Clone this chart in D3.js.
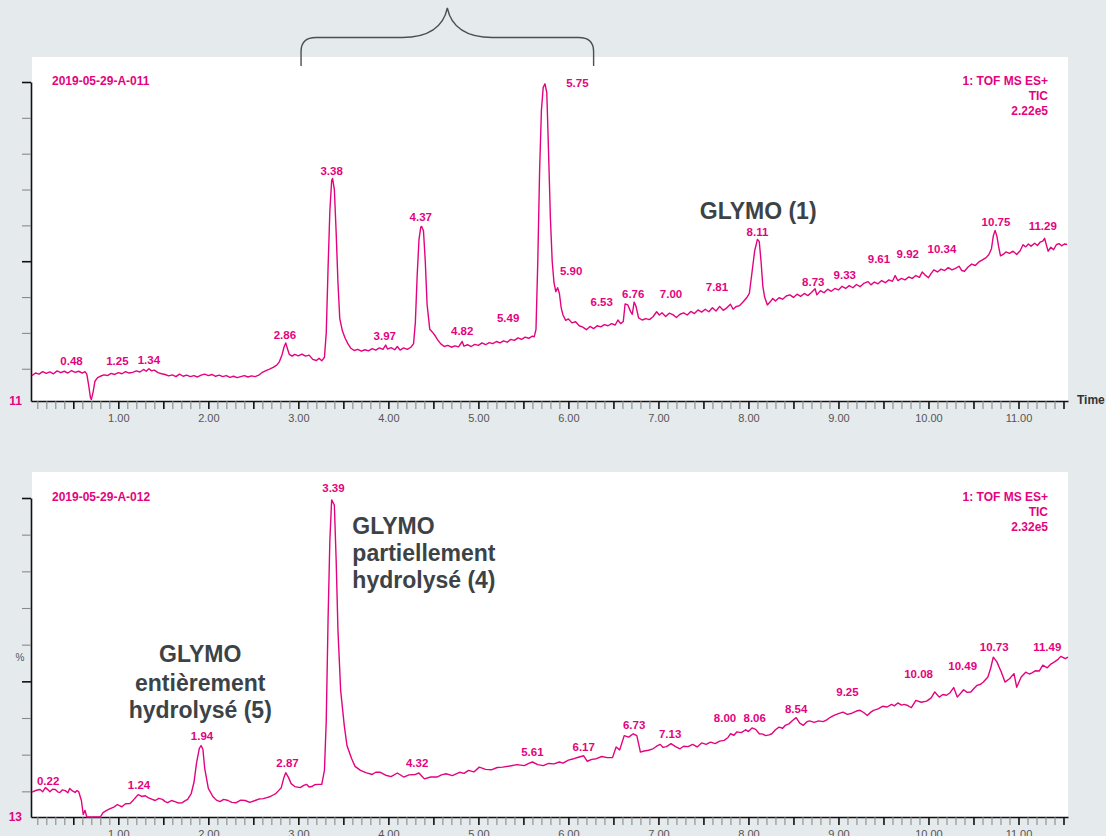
<!DOCTYPE html>
<html>
<head>
<meta charset="utf-8">
<script src="https://cdn.jsdelivr.net/npm/d3@7"></script>
<style>
  body { margin: 0; background: #e5eaed; }
  svg { display: block; font-family: "Liberation Sans", Arial, sans-serif; }
</style>
</head>
<body>
<div id="chart"></div>
<script>
// ============ DATA ============
// chromatogram traces: [time (min), intensity (%)]
let topTrace = [
  [0.04,18.1],[0.08,18.8],[0.12,18.5],[0.16,19.2],[0.20,18.7],[0.24,19.1],[0.28,18.6],[0.32,19.4],[0.36,18.9],[0.40,19.3],
  [0.44,18.8],[0.48,19.5],[0.52,19.0],[0.56,19.3],[0.60,18.8],[0.63,19.2],[0.65,18.5],[0.67,15.5],[0.69,12.0],[0.70,11.4],
  [0.72,13.5],[0.74,16.5],[0.77,17.5],[0.80,17.9],[0.84,18.3],[0.88,18.1],[0.92,18.7],[0.96,18.4],[1.00,18.9],[1.04,18.6],
  [1.08,19.2],[1.12,18.8],[1.16,19.0],[1.20,19.4],[1.24,19.1],[1.28,19.8],[1.31,19.3],[1.34,20.0],[1.37,19.4],[1.40,19.6],
  [1.44,18.9],[1.48,18.6],[1.52,18.4],[1.56,18.0],[1.60,18.3],[1.64,17.8],[1.68,18.5],[1.72,17.9],[1.76,18.2],[1.80,17.8],
  [1.84,18.1],[1.88,17.7],[1.92,18.2],[1.96,18.5],[2.00,18.1],[2.04,18.4],[2.08,17.9],[2.12,18.2],[2.16,17.8],[2.20,18.1],
  [2.24,17.6],[2.28,17.9],[2.32,17.5],[2.36,17.8],[2.40,18.1],[2.44,17.7],[2.48,18.0],[2.52,17.8],[2.56,18.2],[2.60,19.0],
  [2.64,19.5],[2.68,19.9],[2.72,20.4],[2.76,21.0],[2.79,22.0],[2.82,24.0],[2.84,26.0],[2.86,27.2],[2.88,25.5],[2.90,24.0],
  [2.93,23.5],[2.96,24.0],[3.00,23.6],[3.04,24.1],[3.08,23.5],[3.12,23.8],[3.16,22.6],[3.20,22.3],[3.23,22.9],[3.26,22.2],
  [3.29,23.2],[3.31,30.0],[3.33,48.0],[3.35,64.0],[3.37,72.5],[3.38,73.1],[3.40,70.0],[3.42,58.0],[3.44,44.0],[3.46,34.0],
  [3.49,30.5],[3.52,28.5],[3.55,27.0],[3.58,25.8],[3.62,25.1],[3.66,25.4],[3.70,24.9],[3.74,25.3],[3.78,25.0],[3.82,25.6],
  [3.86,25.2],[3.90,25.8],[3.94,25.4],[3.97,26.6],[3.99,25.5],[4.03,25.9],[4.07,25.3],[4.10,26.2],[4.13,25.2],[4.17,25.8],
  [4.21,25.4],[4.25,26.0],[4.28,27.0],[4.30,33.0],[4.32,46.0],[4.34,56.0],[4.36,59.5],[4.37,59.7],[4.39,58.5],[4.41,50.0],
  [4.43,38.0],[4.46,31.0],[4.49,30.2],[4.52,29.2],[4.55,28.0],[4.58,27.0],[4.62,26.2],[4.66,26.5],[4.70,26.0],[4.74,26.4],
  [4.78,26.1],[4.82,27.6],[4.84,26.3],[4.88,26.7],[4.92,26.2],[4.96,26.8],[5.00,26.5],[5.04,27.2],[5.08,26.7],[5.12,27.3],
  [5.16,27.0],[5.20,27.6],[5.24,27.2],[5.28,27.8],[5.32,27.4],[5.36,28.2],[5.40,27.9],[5.44,28.6],[5.48,28.2],[5.52,28.8],
  [5.56,28.5],[5.60,29.1],[5.62,28.9],[5.64,31.0],[5.66,50.0],[5.68,75.0],[5.70,92.0],[5.72,98.5],[5.74,99.5],[5.76,97.0],
  [5.78,80.0],[5.80,62.0],[5.82,50.0],[5.84,44.0],[5.86,41.5],[5.88,42.6],[5.90,41.0],[5.92,37.0],[5.94,35.0],[5.97,33.5],
  [6.00,33.9],[6.04,32.8],[6.08,33.1],[6.12,32.0],[6.16,31.6],[6.20,30.9],[6.24,31.8],[6.28,31.2],[6.32,32.0],[6.36,31.7],
  [6.40,32.3],[6.44,32.0],[6.48,32.6],[6.52,32.2],[6.55,33.6],[6.58,32.6],[6.61,33.2],[6.63,38.1],[6.66,37.8],[6.69,36.0],
  [6.71,35.2],[6.73,38.6],[6.75,37.5],[6.78,34.2],[6.82,33.6],[6.86,34.0],[6.90,33.7],[6.94,34.5],[6.98,35.9],[7.01,35.0],
  [7.04,35.6],[7.08,34.6],[7.12,35.5],[7.16,35.1],[7.20,34.3],[7.24,35.2],[7.28,35.6],[7.32,35.0],[7.36,36.0],[7.40,35.4],
  [7.44,36.4],[7.48,35.8],[7.52,36.6],[7.56,35.9],[7.60,37.0],[7.64,36.1],[7.68,37.4],[7.72,36.3],[7.76,37.0],[7.80,38.0],
  [7.83,36.6],[7.86,37.3],[7.90,37.6],[7.94,38.6],[7.98,39.8],[8.01,41.0],[8.04,47.0],[8.07,53.0],[8.10,56.1],[8.12,55.5],
  [8.14,50.0],[8.16,43.0],[8.18,40.0],[8.21,37.8],[8.24,38.6],[8.27,39.6],[8.30,38.9],[8.34,39.8],[8.38,39.4],[8.42,40.3],
  [8.46,40.6],[8.50,39.9],[8.54,40.8],[8.58,40.2],[8.62,41.0],[8.66,40.4],[8.70,41.3],[8.74,42.3],[8.76,40.6],[8.80,41.8],
  [8.84,41.2],[8.88,42.2],[8.92,41.6],[8.96,42.4],[9.00,42.0],[9.04,43.0],[9.08,42.4],[9.12,43.2],[9.16,42.6],[9.20,43.5],
  [9.24,42.9],[9.28,43.8],[9.33,44.3],[9.36,43.4],[9.40,44.2],[9.44,43.7],[9.48,44.6],[9.52,44.0],[9.56,44.8],[9.60,44.4],
  [9.63,46.0],[9.66,44.6],[9.70,45.2],[9.74,44.8],[9.78,45.6],[9.82,45.2],[9.86,46.0],[9.90,45.5],[9.93,47.0],[9.96,46.2],
  [10.00,45.4],[10.03,46.6],[10.06,47.6],[10.10,47.0],[10.14,47.8],[10.18,47.4],[10.22,48.2],[10.26,47.6],[10.30,48.0],[10.34,48.6],
  [10.37,47.4],[10.40,47.2],[10.44,48.4],[10.48,49.2],[10.52,48.8],[10.56,49.8],[10.60,50.4],[10.64,51.0],[10.67,51.8],[10.70,53.5],
  [10.72,57.0],[10.74,58.6],[10.76,57.0],[10.78,54.0],[10.80,51.5],[10.83,51.9],[10.86,52.6],[10.90,52.2],[10.94,52.8],[10.98,51.9],
  [11.02,53.0],[11.05,54.6],[11.08,54.0],[11.11,54.8],[11.14,54.2],[11.18,55.0],[11.21,54.4],[11.24,55.3],[11.27,55.6],[11.29,56.4],
  [11.31,54.5],[11.33,52.8],[11.36,53.9],[11.39,53.2],[11.42,54.6],[11.45,54.9],[11.48,54.3],[11.51,54.8],[11.54,54.7]
];

let bottomTrace = [
  [0.04,19.8],[0.09,20.3],[0.13,20.5],[0.16,19.9],[0.19,21.0],[0.22,20.4],[0.24,19.9],[0.27,20.6],[0.30,20.5],[0.33,19.8],
  [0.35,19.7],[0.38,20.4],[0.41,20.2],[0.44,19.6],[0.46,20.8],[0.49,20.1],[0.52,19.7],[0.54,20.2],[0.56,19.9],[0.59,17.5],
  [0.61,13.7],[0.63,14.8],[0.65,13.0],[0.80,13.0],[0.83,14.2],[0.87,14.8],[0.91,15.3],[0.95,15.7],[0.99,16.4],[1.02,16.0],
  [1.04,15.8],[1.08,16.6],[1.13,16.7],[1.16,17.4],[1.18,18.0],[1.22,19.1],[1.26,18.6],[1.30,18.8],[1.33,18.3],[1.37,17.9],
  [1.41,17.5],[1.45,18.1],[1.49,17.8],[1.52,17.2],[1.55,16.9],[1.59,17.5],[1.63,17.2],[1.67,16.8],[1.71,16.9],[1.74,17.4],
  [1.77,17.8],[1.81,19.4],[1.84,22.4],[1.87,27.9],[1.90,31.7],[1.92,32.5],[1.94,31.4],[1.96,26.2],[2.00,20.8],[2.05,18.6],
  [2.09,17.6],[2.13,17.2],[2.17,17.8],[2.22,17.5],[2.26,17.0],[2.31,16.9],[2.36,17.6],[2.41,17.5],[2.46,17.0],[2.52,17.5],
  [2.56,17.9],[2.61,18.0],[2.65,18.3],[2.69,18.6],[2.72,19.0],[2.75,19.4],[2.78,20.2],[2.81,21.0],[2.84,23.8],[2.86,25.1],
  [2.89,23.8],[2.92,22.1],[2.96,21.3],[3.02,21.0],[3.06,21.6],[3.09,21.9],[3.12,21.2],[3.15,21.3],[3.18,21.8],[3.22,21.9],
  [3.26,21.9],[3.29,25.7],[3.31,39.3],[3.33,66.7],[3.35,88.5],[3.37,99.5],[3.40,98.1],[3.42,83.1],[3.44,63.9],[3.47,47.5],
  [3.51,38.0],[3.54,32.5],[3.59,29.0],[3.63,26.8],[3.69,25.7],[3.75,25.1],[3.82,24.6],[3.86,25.2],[3.91,25.2],[3.97,24.4],
  [4.03,24.0],[4.10,25.0],[4.17,23.9],[4.23,24.5],[4.30,24.6],[4.34,25.0],[4.37,24.2],[4.40,23.4],[4.47,23.9],[4.54,23.9],
  [4.59,24.5],[4.64,24.8],[4.71,24.3],[4.79,25.2],[4.84,24.9],[4.89,25.7],[4.95,25.3],[5.01,26.6],[5.08,26.0],[5.15,25.9],
  [5.21,26.5],[5.27,26.6],[5.35,26.9],[5.43,27.3],[5.51,27.0],[5.56,27.6],[5.60,28.0],[5.66,27.3],[5.72,27.0],[5.78,27.6],
  [5.84,27.5],[5.90,28.0],[5.94,27.7],[6.00,28.5],[6.06,28.9],[6.11,29.3],[6.17,29.7],[6.21,28.2],[6.26,28.7],[6.31,28.9],
  [6.37,29.5],[6.43,29.2],[6.49,29.2],[6.53,32.1],[6.57,31.3],[6.62,35.2],[6.67,34.8],[6.72,35.7],[6.76,35.2],[6.80,30.7],
  [6.84,31.0],[6.89,31.2],[6.94,31.6],[6.98,32.3],[7.02,32.8],[7.05,32.0],[7.09,32.2],[7.14,33.0],[7.19,32.2],[7.24,31.6],
  [7.28,32.3],[7.33,32.2],[7.38,32.8],[7.43,32.1],[7.48,33.2],[7.53,32.8],[7.58,33.4],[7.63,33.0],[7.68,33.7],[7.73,33.9],
  [7.77,34.6],[7.80,35.7],[7.84,35.3],[7.87,36.2],[7.92,36.0],[7.97,36.8],[8.00,36.3],[8.04,37.3],[8.08,36.9],[8.12,35.7],
  [8.16,35.6],[8.19,35.2],[8.23,35.4],[8.26,35.7],[8.30,36.8],[8.34,37.5],[8.38,37.2],[8.41,38.0],[8.45,38.4],[8.49,39.3],
  [8.53,40.1],[8.57,38.6],[8.61,38.0],[8.65,39.0],[8.68,39.2],[8.73,38.8],[8.78,39.2],[8.83,39.0],[8.87,39.5],[8.91,40.2],
  [8.95,40.7],[9.00,41.2],[9.05,41.6],[9.10,41.0],[9.15,41.3],[9.20,41.9],[9.24,42.1],[9.28,41.5],[9.32,40.7],[9.36,41.6],
  [9.39,42.1],[9.44,42.5],[9.49,43.2],[9.54,43.0],[9.59,43.7],[9.62,43.3],[9.66,44.1],[9.70,43.5],[9.73,43.7],[9.77,43.4],
  [9.81,42.8],[9.86,44.8],[9.92,44.3],[9.98,44.6],[10.03,45.5],[10.07,47.1],[10.12,45.7],[10.16,46.4],[10.20,46.2],[10.24,46.9],
  [10.28,48.3],[10.32,45.7],[10.36,46.8],[10.39,47.7],[10.43,47.0],[10.47,47.1],[10.51,48.2],[10.54,48.9],[10.58,49.2],[10.61,49.8],
  [10.66,51.2],[10.69,53.5],[10.72,56.6],[10.76,55.3],[10.81,52.5],[10.85,49.8],[10.90,50.7],[10.95,52.1],[10.98,48.4],[11.03,51.2],
  [11.08,52.5],[11.12,52.0],[11.15,52.3],[11.19,52.9],[11.23,52.8],[11.27,54.4],[11.32,53.7],[11.36,54.7],[11.40,55.3],[11.44,56.0],
  [11.47,56.8],[11.52,56.2],[11.55,56.6]
];

// peak labels: text, time where it is drawn, intensity (%) of its baseline
let topPeakText = ["0.48","1.25","1.34","2.86","3.38","3.97","4.37","4.82","5.49","5.75","5.90","6.53","6.76","7.00","7.81","8.11","8.73","9.33","9.61","9.92","10.34","10.75","11.29"];
let topPeakTime = [0.48,0.99,1.34,2.85,3.37,3.96,4.36,4.82,5.33,6.10,6.03,6.37,6.72,7.14,7.65,8.10,8.72,9.07,9.45,9.77,10.15,10.75,11.27];
let topPeakPct  = [21.1,21.1,21.4,28.3,74.0,28.1,61.2,29.4,33.1,98.7,46.2,37.6,39.6,39.7,41.6,57.0,43.1,45.0,49.4,50.8,52.2,59.8,58.6];

let bottomPeakText = ["0.22","1.24","1.94","2.87","3.39","4.32","5.61","6.17","6.73","7.13","8.00","8.06","8.54","9.25","10.08","10.49","10.73","11.49"];
let bottomPeakTime = [0.22,1.23,1.93,2.88,3.39,4.32,5.60,6.17,6.73,7.13,7.74,8.07,8.53,9.10,9.89,10.38,10.73,11.32];
let bottomPeakPct  = [21.6,20.7,33.9,26.6,101.6,26.6,29.6,31.0,37.0,34.6,38.9,38.9,41.3,46.0,51.0,53.0,58.2,58.2];

// headers
let topSample = "2019-05-29-A-011";
let bottomSample = "2019-05-29-A-012";
let topInfo = ["1: TOF MS ES+", "TIC", "2.22e5"];
let bottomInfo = ["1: TOF MS ES+", "TIC", "2.32e5"];
let topOffset = "11";
let bottomOffset = "13";

// axis ticks
let xLabelValues = [1,2,3,4,5,6,7,8,9,10,11];
let yTickValues = [20,30,40,50,60,70,80,90,100];
let yMajorTicks = [50,100];

// annotations: lines, anchor time, baseline intensity of each line
let topNote = ["GLYMO (1)"];
let topNoteTime = 7.46;
let topNotePct = [61.8];
let partialNote = ["GLYMO", "partiellement", "hydrolysé (4)"];
let partialNoteTime = 3.60;
let partialNotePct = [90.2, 82.8, 75.4];
let fullNote = ["GLYMO", "entièrement", "hydrolysé (5)"];
let fullNoteTime = 1.91;
let fullNotePct = [55.2, 47.5, 39.9];
// bracket over the top chart (time range)
let bracketRange = [3.03, 6.28];

// ============ CHART ============
let svgWidth = 1106;
let svgHeight = 836;
let pink = "#e4037e";
let darkText = "#3c4347";

let svg = d3.select("#chart")
  .append("svg")
  .attr("width", svgWidth)
  .attr("height", svgHeight);

svg.append("rect")
  .attr("width", svgWidth)
  .attr("height", svgHeight)
  .attr("fill", "#e5eaed");

// shared time scale
let xLeft = 31;
let xRight = 1068;
let xScale = d3.scaleLinear().domain([0.03, 11.55]).range([xLeft, xRight]);

function drawPanel(p) {
  let yScale = d3.scaleLinear().domain([p.yMin, 100]).range([p.bottom, p.top]);
  let g = svg.append("g");

  // white plot background
  g.append("rect")
    .attr("x", xLeft + 1)
    .attr("y", p.panelTop)
    .attr("width", xRight - xLeft - 1)
    .attr("height", p.bottom - p.panelTop)
    .attr("fill", "#fff");

  // bottom axis - minor tick every 0.1, darker every 0.5, label every 1
  let minorTicks = d3.range(1, 116).map(i => i / 10);
  let xAxis = d3.axisBottom(xScale)
    .tickValues(minorTicks)
    .tickSize(8)
    .tickSizeOuter(0)
    .tickPadding(5)
    .tickFormat(d => xLabelValues.indexOf(Math.round(d * 10) / 10) >= 0 ? d3.format(".2f")(d) : "");
  let xg = g.append("g")
    .attr("transform", "translate(0," + p.bottom + ")")
    .call(xAxis);
  xg.select(".domain").attr("stroke", "#111").attr("stroke-width", 1.6);
  xg.selectAll(".tick line")
    .attr("stroke", d => Math.round(d * 10) % 5 === 0 ? "#111" : "#8a8a8a")
    .attr("stroke-width", d => Math.round(d * 10) % 5 === 0 ? 1.6 : 1.1);
  xg.selectAll(".tick text")
    .attr("fill", "#555")
    .attr("font-size", 11)
    .attr("font-family", "Liberation Sans, Arial, sans-serif");

  // left axis
  let yAxis = d3.axisLeft(yScale)
    .tickValues(yTickValues)
    .tickSize(9)
    .tickSizeOuter(0)
    .tickFormat("");
  let yg = g.append("g")
    .attr("transform", "translate(" + xLeft + ",0)")
    .call(yAxis);
  yg.select(".domain").attr("stroke", "#111").attr("stroke-width", 1.6);
  yg.selectAll(".tick line")
    .attr("stroke", d => yMajorTicks.indexOf(d) >= 0 ? "#111" : "#8a8a8a")
    .attr("stroke-width", d => yMajorTicks.indexOf(d) >= 0 ? 1.6 : 1.1);

  // trace
  let line = d3.line()
    .x(d => xScale(d[0]))
    .y(d => yScale(d[1]));
  g.append("path")
    .datum(p.trace)
    .attr("d", line)
    .attr("fill", "none")
    .attr("stroke", pink)
    .attr("stroke-width", 1.4)
    .attr("stroke-linejoin", "round");

  // peak labels
  g.selectAll("text.peak")
    .data(p.peakText)
    .enter()
    .append("text")
    .attr("class", "peak")
    .attr("x", (d, i) => xScale(p.peakTime[i]))
    .attr("y", (d, i) => yScale(p.peakPct[i]))
    .attr("text-anchor", "middle")
    .attr("font-size", 11.5)
    .attr("font-weight", "bold")
    .attr("fill", pink)
    .text(d => d);

  // sample name and scan info
  g.append("text")
    .attr("x", xLeft + 21)
    .attr("y", p.top + 2.5)
    .attr("font-size", 12)
    .attr("font-weight", "bold")
    .attr("fill", pink)
    .text(p.sample);

  g.selectAll("text.info")
    .data(p.info)
    .enter()
    .append("text")
    .attr("class", "info")
    .attr("x", xRight - 20)
    .attr("y", (d, i) => p.top + 2.5 + i * 15)
    .attr("text-anchor", "end")
    .attr("font-size", 12)
    .attr("font-weight", "bold")
    .attr("fill", pink)
    .text(d => d);

  // baseline offset value
  g.append("text")
    .attr("x", xLeft - 9)
    .attr("y", p.bottom + 3.5)
    .attr("text-anchor", "end")
    .attr("font-size", 12)
    .attr("font-weight", "bold")
    .attr("fill", pink)
    .text(p.offset);

  // annotations
  p.notes.forEach(n => {
    g.selectAll(null)
      .data(n.lines)
      .enter()
      .append("text")
      .attr("x", xScale(n.time))
      .attr("y", (d, i) => yScale(n.pct[i]))
      .attr("text-anchor", n.anchor)
      .attr("font-size", 23)
      .attr("font-weight", "bold")
      .attr("fill", darkText)
      .text(d => d);
  });

  return yScale;
}

// ----- top chromatogram -----
drawPanel({
  panelTop: 57, top: 82, bottom: 401, yMin: 11,
  trace: topTrace,
  peakText: topPeakText, peakTime: topPeakTime, peakPct: topPeakPct,
  sample: topSample, info: topInfo, offset: topOffset,
  notes: [{ lines: topNote, time: topNoteTime, pct: topNotePct, anchor: "start" }]
});

// "Time" label at the right end of the top axis
svg.append("text")
  .attr("x", xRight + 9)
  .attr("y", 404)
  .attr("font-size", 12)
  .attr("font-weight", "bold")
  .attr("fill", "#333")
  .text("Time");

// ----- bottom chromatogram -----
let bottomY = drawPanel({
  panelTop: 472, top: 498, bottom: 817, yMin: 13,
  trace: bottomTrace,
  peakText: bottomPeakText, peakTime: bottomPeakTime, peakPct: bottomPeakPct,
  sample: bottomSample, info: bottomInfo, offset: bottomOffset,
  notes: [
    { lines: partialNote, time: partialNoteTime, pct: partialNotePct, anchor: "start" },
    { lines: fullNote, time: fullNoteTime, pct: fullNotePct, anchor: "middle" }
  ]
});

svg.append("text")
  .attr("x", 20)
  .attr("y", bottomY(55.5))
  .attr("text-anchor", "middle")
  .attr("font-size", 10)
  .attr("fill", "#555")
  .text("%");

// ----- curly bracket above the top chart -----
let bl = xScale(bracketRange[0]);
let br = xScale(bracketRange[1]);
let bc = (bl + br) / 2;
let yEnd = 66, yBar = 37.5, yTip = 8;
let brace = d3.path();
brace.moveTo(bl, yEnd);
brace.lineTo(bl, yBar + 14);
brace.quadraticCurveTo(bl, yBar, bl + 15, yBar);
brace.lineTo(bc - 45, yBar);
brace.bezierCurveTo(bc - 20, yBar, bc - 4, yBar - 10, bc, yTip);
brace.bezierCurveTo(bc + 4, yBar - 10, bc + 20, yBar, bc + 45, yBar);
brace.lineTo(br - 15, yBar);
brace.quadraticCurveTo(br, yBar, br, yBar + 14);
brace.lineTo(br, yEnd);
svg.append("path")
  .attr("d", brace.toString())
  .attr("fill", "none")
  .attr("stroke", "#4a4f52")
  .attr("stroke-width", 1.4);
</script>
</body>
</html>
